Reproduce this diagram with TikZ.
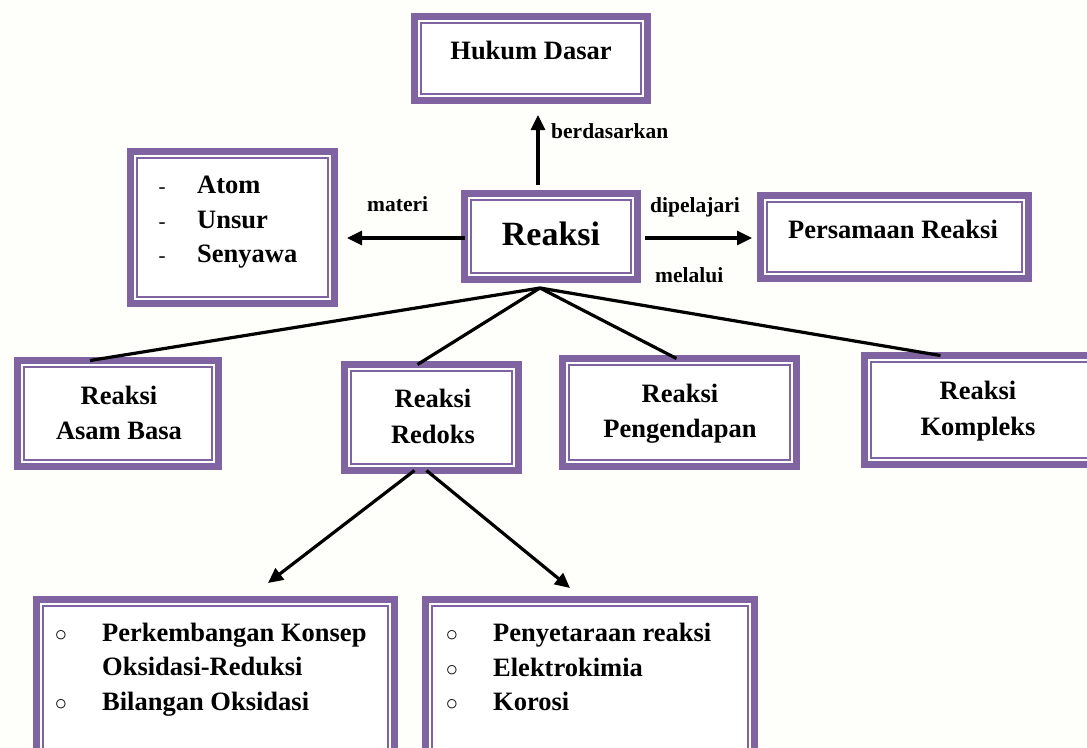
\documentclass[tikz,border=0pt]{standalone}
\usepackage{fontspec}
\setmainfont{Liberation Serif}
\usetikzlibrary{arrows.meta}
\definecolor{pur}{HTML}{8064A2}
\definecolor{bgc}{RGB}{254,254,250}
\newcommand\pbox[5]{%
  \node[boxst, minimum width={#4-#2-7}, minimum height={#5-#3-7}] (#1) at ({(#2+#4)/2},{(#3+#5)/2}) {};%
  \draw[pur, line width=1.8pt] ([shift={(6.5pt,-6.5pt)}]#1.north west) rectangle ([shift={(-6.5pt,6.5pt)}]#1.south east);}
\begin{document}
\begin{tikzpicture}[x=1pt,y=-1pt,
  boxst/.style={draw=pur, line width=7pt, fill=white, inner sep=0pt, outer sep=0pt, rectangle},
  txt/.style={font=\bfseries\fontsize{26.5}{30}\selectfont, inner sep=0pt, anchor=base},
  itm/.style={font=\bfseries\fontsize{26.5}{30}\selectfont, inner sep=0pt, anchor=base west},
  mrk/.style={font=\fontsize{21}{24}\selectfont, inner sep=0pt, anchor=base},
  lbl/.style={font=\bfseries\fontsize{21.5}{24}\selectfont, inner sep=0pt, anchor=base west},
  arr/.style={line width=3.2pt, -{Triangle[length=15pt,width=14pt]}},
  con/.style={line width=3.2pt}]
\fill[bgc] (0,0) rectangle (1087,747);
\useasboundingbox (0,0) rectangle (1087,747);

% boxes
\pbox{hukum}{411}{13}{651}{104}
\pbox{atom}{127}{148}{338}{307}
\pbox{reaksi}{461}{190}{641}{283}
\pbox{pers}{757}{192}{1032}{282}
\pbox{asam}{14}{357}{222}{470}
\pbox{redoks}{341}{361}{522}{474}
\pbox{pengen}{559}{355}{800}{470}
\pbox{komp}{861}{352}{1100}{468}
\pbox{bl}{33}{596}{398}{760}
\pbox{br}{422}{596}{758}{760}

% texts
\node[txt] (thukum) at (531,59) {Hukum Dasar};
\node[txt, font=\bfseries\fontsize{34}{38}\selectfont] (treaksi) at (551,245) {Reaksi};
\node[txt] (tpers) at (893,238) {Persamaan Reaksi};

\node[mrk] (d1) at (162,193) {-};
\node[mrk] (d2) at (162,228) {-};
\node[mrk] (d3) at (162,262) {-};
\node[itm] (a1) at (197,193) {Atom};
\node[itm] (a2) at (197,228) {Unsur};
\node[itm] (a3) at (197,262) {Senyawa};

\node[txt] (tas1) at (119,404) {Reaksi};
\node[txt] (tas2) at (119,439) {Asam Basa};
\node[txt] (tre1) at (433,407) {Reaksi};
\node[txt] (tre2) at (433,443) {Redoks};
\node[txt] (tpe1) at (680,402) {Reaksi};
\node[txt] (tpe2) at (680,437) {Pengendapan};
\node[txt] (tko1) at (978,399) {Reaksi};
\node[txt] (tko2) at (978,435) {Kompleks};

\node[mrk] (o1) at (61,641) {○};
\node[mrk] (o2) at (61,710) {○};
\node[itm] (b1) at (102,641) {Perkembangan Konsep};
\node[itm] (b2) at (102,675.5) {Oksidasi-Reduksi};
\node[itm] (b3) at (102,710) {Bilangan Oksidasi};

\node[mrk] (o3) at (452,641) {○};
\node[mrk] (o4) at (452,676) {○};
\node[mrk] (o5) at (452,710) {○};
\node[itm] (c1) at (493,641) {Penyetaraan reaksi};
\node[itm] (c2) at (493,676) {Elektrokimia};
\node[itm] (c3) at (493,710) {Korosi};

% labels
\node[lbl] (lmateri) at (367,211) {materi};
\node[lbl] (lberd) at (551,138) {berdasarkan};
\node[lbl] (ldip) at (650,212) {dipelajari};
\node[lbl] (lmel) at (655,282) {melalui};

% connectors
\draw[arr] ([xshift=-13pt,yshift=8.5pt]reaksi.north) -- ([xshift=7pt,yshift=-14.5pt]hukum.south);
\draw[arr, shorten >=12.5pt] ([yshift=-1.5pt]reaksi.west) -- ([yshift=-1.5pt]atom.east |- reaksi.west);
\draw[arr, shorten <=7.5pt, shorten >=8.5pt] ([yshift=-1.5pt]reaksi.east) -- ([yshift=-1.5pt]pers.west |- reaksi.east);

\coordinate (hub) at (540,288);
\draw[con] (hub) -- ([xshift=-28pt]asam.north);
\draw[con] (hub) -- ([xshift=-14pt]redoks.north);
\draw[con] (hub) -- ([xshift=-3pt]pengen.north);
\draw[con] (hub) -- ([xshift=-40pt]komp.north);

\coordinate (tipl) at (268,583);
\coordinate (tipr) at (570,588);
\draw[arr] ([xshift=-17pt]redoks.south) -- (tipl);
\draw[arr] ([xshift=-5pt]redoks.south) -- (tipr);
\end{tikzpicture}
\end{document}
